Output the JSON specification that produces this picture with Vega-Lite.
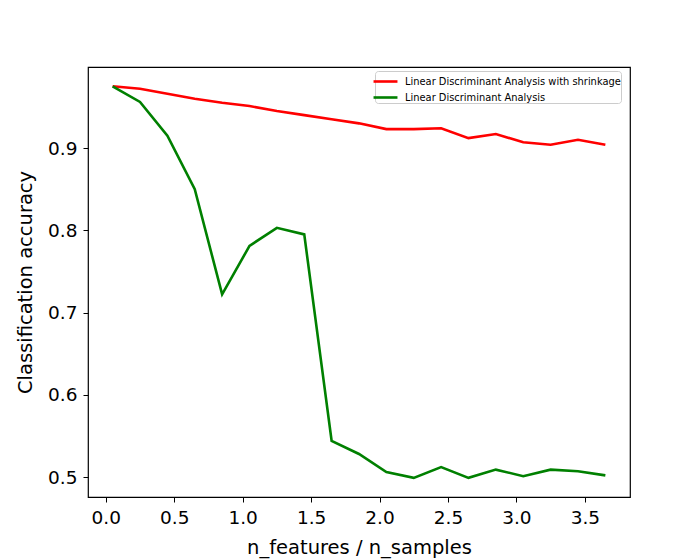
{
  "$schema": "https://vega.github.io/schema/vega-lite/v6.json",
  "autosize": "none",
  "width": 542,
  "height": 430,
  "padding": {"left": 88, "top": 67, "right": 70, "bottom": 63},
  "background": "white",
  "config": {
    "font": "DejaVu Sans",
    "view": {"stroke": "#000000", "strokeWidth": 1.2},
    "axis": {
      "domain": false,
      "grid": false,
      "tickColor": "#000000",
      "tickSize": 5,
      "tickWidth": 1,
      "labelColor": "#000000",
      "labelFontSize": 18.5,
      "labelFont": "DejaVu Sans",
      "titleFont": "DejaVu Sans",
      "titleFontSize": 19.5,
      "titleFontWeight": "normal",
      "titleColor": "#000000"
    }
  },
  "data": {
    "values": [
      {"x": 0.05, "acc": 0.975, "series": "Linear Discriminant Analysis with shrinkage"},
      {"x": 0.25, "acc": 0.972, "series": "Linear Discriminant Analysis with shrinkage"},
      {"x": 0.45, "acc": 0.966, "series": "Linear Discriminant Analysis with shrinkage"},
      {"x": 0.65, "acc": 0.960, "series": "Linear Discriminant Analysis with shrinkage"},
      {"x": 0.85, "acc": 0.955, "series": "Linear Discriminant Analysis with shrinkage"},
      {"x": 1.05, "acc": 0.951, "series": "Linear Discriminant Analysis with shrinkage"},
      {"x": 1.25, "acc": 0.945, "series": "Linear Discriminant Analysis with shrinkage"},
      {"x": 1.45, "acc": 0.940, "series": "Linear Discriminant Analysis with shrinkage"},
      {"x": 1.65, "acc": 0.935, "series": "Linear Discriminant Analysis with shrinkage"},
      {"x": 1.85, "acc": 0.930, "series": "Linear Discriminant Analysis with shrinkage"},
      {"x": 2.05, "acc": 0.923, "series": "Linear Discriminant Analysis with shrinkage"},
      {"x": 2.25, "acc": 0.923, "series": "Linear Discriminant Analysis with shrinkage"},
      {"x": 2.45, "acc": 0.924, "series": "Linear Discriminant Analysis with shrinkage"},
      {"x": 2.65, "acc": 0.912, "series": "Linear Discriminant Analysis with shrinkage"},
      {"x": 2.85, "acc": 0.917, "series": "Linear Discriminant Analysis with shrinkage"},
      {"x": 3.05, "acc": 0.907, "series": "Linear Discriminant Analysis with shrinkage"},
      {"x": 3.25, "acc": 0.904, "series": "Linear Discriminant Analysis with shrinkage"},
      {"x": 3.45, "acc": 0.910, "series": "Linear Discriminant Analysis with shrinkage"},
      {"x": 3.65, "acc": 0.904, "series": "Linear Discriminant Analysis with shrinkage"},
      {"x": 0.05, "acc": 0.975, "series": "Linear Discriminant Analysis"},
      {"x": 0.25, "acc": 0.956, "series": "Linear Discriminant Analysis"},
      {"x": 0.45, "acc": 0.915, "series": "Linear Discriminant Analysis"},
      {"x": 0.65, "acc": 0.850, "series": "Linear Discriminant Analysis"},
      {"x": 0.85, "acc": 0.722, "series": "Linear Discriminant Analysis"},
      {"x": 1.05, "acc": 0.781, "series": "Linear Discriminant Analysis"},
      {"x": 1.25, "acc": 0.803, "series": "Linear Discriminant Analysis"},
      {"x": 1.45, "acc": 0.795, "series": "Linear Discriminant Analysis"},
      {"x": 1.65, "acc": 0.544, "series": "Linear Discriminant Analysis"},
      {"x": 1.85, "acc": 0.528, "series": "Linear Discriminant Analysis"},
      {"x": 2.05, "acc": 0.506, "series": "Linear Discriminant Analysis"},
      {"x": 2.25, "acc": 0.499, "series": "Linear Discriminant Analysis"},
      {"x": 2.45, "acc": 0.512, "series": "Linear Discriminant Analysis"},
      {"x": 2.65, "acc": 0.499, "series": "Linear Discriminant Analysis"},
      {"x": 2.85, "acc": 0.509, "series": "Linear Discriminant Analysis"},
      {"x": 3.05, "acc": 0.501, "series": "Linear Discriminant Analysis"},
      {"x": 3.25, "acc": 0.509, "series": "Linear Discriminant Analysis"},
      {"x": 3.45, "acc": 0.507, "series": "Linear Discriminant Analysis"},
      {"x": 3.65, "acc": 0.502, "series": "Linear Discriminant Analysis"}
    ]
  },
  "mark": {"type": "line", "strokeWidth": 2.6, "clip": true},
  "encoding": {
    "x": {
      "field": "x",
      "type": "quantitative",
      "title": "n_features / n_samples",
      "scale": {"domain": [-0.13, 3.83], "nice": false, "zero": false},
      "axis": {"values": [0, 0.5, 1, 1.5, 2, 2.5, 3, 3.5], "format": ".1f", "labelPadding": 6, "titlePadding": 12}
    },
    "y": {
      "field": "acc",
      "type": "quantitative",
      "title": "Classification accuracy",
      "scale": {"domain": [0.4757, 0.9985], "nice": false, "zero": false},
      "axis": {"values": [0.5, 0.6, 0.7, 0.8, 0.9], "format": ".1f", "labelPadding": 6, "titlePadding": 12}
    },
    "color": {
      "field": "series",
      "type": "nominal",
      "scale": {
        "domain": ["Linear Discriminant Analysis with shrinkage", "Linear Discriminant Analysis"],
        "range": ["#ff0000", "#008000"]
      },
      "legend": {
        "title": null,
        "orient": "none",
        "legendX": 287,
        "legendY": 4,
        "symbolType": "M-1.33,0H1.33",
        "symbolStrokeWidth": 2.6,
        "symbolSize": 324,
        "labelFontSize": 9.9,
        "labelColor": "#000000",
        "labelFont": "DejaVu Sans",
        "rowPadding": -2.5,
        "labelOffset": 9,
        "padding": 0,
        "offset": 0,
        "strokeColor": "#cccccc",
        "fillColor": "white",
        "cornerRadius": 3,
        "labelLimit": 400
      }
    }
  }
}
